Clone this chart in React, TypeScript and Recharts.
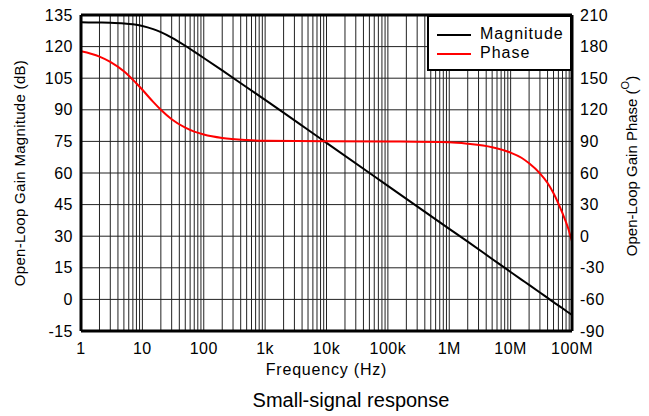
import { ComposedChart, Line, XAxis, YAxis, CartesianGrid, ReferenceLine } from "recharts";

// frequency points (Hz)
const freqs = [
    1, 2, 3, 5, 7, 10, 15, 20, 30, 50, 70, 100, 200, 500, 1000, 10000, 100000,
    1e6, 2e6, 5e6, 1e7, 1.5e7, 2e7, 3e7, 4e7, 5e7, 7e7, 8.5e7, 1e8,
];
const magnitude = [
    131.5, 131.4, 131.3, 131.0, 130.6, 129.8, 128.3, 126.9, 124.3, 120.4, 117.6, 114.6, 108.7, 100.7, 94.7, 74.3, 53.9,
    33.5, 27.4, 19.2, 13.0, 9.4, 6.9, 3.3, 0.7, -1.3, -4.2, -6.0, -7.4,
];
const phase = [
    175.5, 170.5, 165.5, 156.5, 148.5, 139, 127.5, 120, 111, 103, 99.3, 96.6, 93.3, 91.3, 90.6, 90.2, 89.9,
    89.2, 87.8, 84.5, 79.3, 74.5, 69.2, 59.7, 50.5, 40.8, 21.8, 9, -5,
];

const decadeLabels: Record<number, string> = {
    1: "1", 10: "10", 100: "100", 1000: "1k", 10000: "10k",
    100000: "100k", 1000000: "1M", 10000000: "10M", 100000000: "100M",
};
const freqTicks: number[] = [];
for (let d = 1; d < 1e8; d *= 10) {
    for (let m = 1; m < 10; m++) freqTicks.push(d * m);
}
freqTicks.push(1e8);

const magTicks = [-15, 0, 15, 30, 45, 60, 75, 90, 105, 120, 135];
const phaseTicks = [-90, -60, -30, 0, 30, 60, 90, 120, 150, 180, 210];

const data = freqs.map((f, i) => ({ freq: f, magnitude: magnitude[i], phase: phase[i] }));

const tickStyle = { fontSize: 16, fill: "#000", letterSpacing: 0.5 };

export default function App() {
    return (
        <div
            style={{
                position: "absolute",
                left: 0,
                top: 0,
                width: 649,
                height: 416,
                background: "#fff",
                fontFamily: '"Liberation Sans", Arial, sans-serif',
            }}
        >
            <ComposedChart width={649} height={416} data={data} margin={{ top: 15, right: 0, bottom: 25, left: 0 }}>
                <CartesianGrid yAxisId="mag" stroke="#222" strokeWidth={1} />
                <XAxis
                    dataKey="freq"
                    type="number"
                    scale="log"
                    domain={[1, 1e8]}
                    ticks={freqTicks}
                    interval={0}
                    allowDataOverflow
                    tickFormatter={(v: number) => decadeLabels[v] ?? ""}
                    tick={tickStyle}
                    tickSize={0}
                    tickMargin={12}
                    height={60}
                    axisLine={{ stroke: "#000", strokeWidth: 3 }}
                    label={{
                        value: "Frequency (Hz)",
                        position: "insideBottom",
                        offset: 16,
                        fontSize: 16,
                        fill: "#000",
                        style: { letterSpacing: 0.8 },
                    }}
                />
                <YAxis
                    yAxisId="mag"
                    domain={[-15, 135]}
                    ticks={magTicks}
                    interval={0}
                    tick={tickStyle}
                    tickSize={0}
                    tickMargin={8}
                    width={81}
                    axisLine={{ stroke: "#000", strokeWidth: 3 }}
                    label={{
                        value: "Open-Loop Gain Magnitude (dB)",
                        angle: -90,
                        position: "insideLeft",
                        offset: 20,
                        fontSize: 15,
                        fill: "#000",
                        style: { textAnchor: "middle", letterSpacing: 0.3 },
                    }}
                />
                <YAxis
                    yAxisId="phase"
                    orientation="right"
                    domain={[-90, 210]}
                    ticks={phaseTicks}
                    interval={0}
                    tick={tickStyle}
                    tickSize={0}
                    tickMargin={8}
                    width={77}
                    axisLine={{ stroke: "#000", strokeWidth: 3 }}
                    label={(props: any) => {
                        const vb = props.viewBox || {};
                        const x = (vb.x ?? 572) + (vb.width ?? 77) - 18;
                        const y = (vb.y ?? 15) + (vb.height ?? 316) / 2 - 7;
                        return (
                            <text
                                x={x}
                                y={y}
                                transform={`rotate(-90, ${x}, ${y})`}
                                textAnchor="middle"
                                dominantBaseline="central"
                                fontSize={15}
                                fill="#000"
                            >
                                Open-Loop Gain Phase (
                                <tspan fontSize={11} dy={-6}>O</tspan>
                                <tspan dy={6}>)</tspan>
                            </text>
                        );
                    }}
                />
                <ReferenceLine yAxisId="mag" y={135} stroke="#000" strokeWidth={3} />
                <Line
                    yAxisId="mag"
                    type="monotone"
                    dataKey="magnitude"
                    stroke="#000"
                    strokeWidth={2}
                    dot={false}
                    isAnimationActive={false}
                    name="Magnitude"
                />
                <Line
                    yAxisId="phase"
                    type="monotone"
                    dataKey="phase"
                    stroke="#ff0000"
                    strokeWidth={2}
                    dot={false}
                    isAnimationActive={false}
                    name="Phase"
                />
            </ComposedChart>

            {/* Legend */}
            <div
                style={{
                    position: "absolute",
                    left: 427,
                    top: 15,
                    width: 145,
                    height: 56,
                    border: "2px solid #000",
                    boxSizing: "border-box",
                    background: "#fff",
                    fontSize: 16,
                    letterSpacing: 1,
                    color: "#000",
                }}
            >
                <div style={{ position: "absolute", left: 8, top: 17, width: 34, height: 2, background: "#000" }} />
                <div style={{ position: "absolute", left: 51, top: 8, lineHeight: "18px" }}>Magnitude</div>
                <div style={{ position: "absolute", left: 8, top: 36, width: 34, height: 2, background: "#ff0000" }} />
                <div style={{ position: "absolute", left: 51, top: 27, lineHeight: "18px" }}>Phase</div>
            </div>

            {/* Caption */}
            <div
                style={{
                    position: "absolute",
                    left: 201,
                    top: 390,
                    width: 300,
                    textAlign: "center",
                    fontSize: 20,
                    lineHeight: "20px",
                    color: "#000",
                }}
            >
                Small-signal response
            </div>
        </div>
    );
}
